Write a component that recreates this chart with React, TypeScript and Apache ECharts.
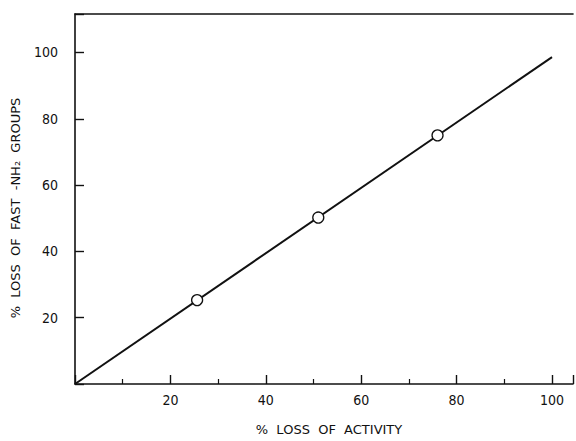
import React, { useEffect, useRef } from "react";
import * as echarts from "echarts";

const pointsX = [25.6, 51, 76];
const pointsY = [25.3, 50.2, 75];
const fitLineX = [0, 100];
const fitLineY = [0, 98.6];
const xTicks = [20, 40, 60, 80, 100];
const yTicks = [20, 40, 60, 80, 100];
const xTitle = "%  LOSS  OF  ACTIVITY";
const yTitle = "%  LOSS  OF  FAST  -NH\u2082  GROUPS";

const NUM_FONT = "'Liberation Sans Narrow', 'DejaVu Sans Condensed', sans-serif";
const NAME_FONT = "'DejaVu Sans', sans-serif";

export default function App() {
  const ref = useRef<HTMLDivElement>(null);
  useEffect(() => {
    if (!ref.current) return;
    const chart = echarts.init(ref.current, undefined, { renderer: "svg" });
    const axisLine = { show: true, lineStyle: { color: "#111", width: 1.6 } };
    chart.setOption({
      animation: false,
      backgroundColor: "#fff",
      grid: { left: 75, top: 14, right: 0, bottom: 53, containLabel: false },
      xAxis: [
        {
          type: "value",
          min: 0,
          max: 104.4,
          interval: 20,
          position: "bottom",
          name: xTitle,
          nameLocation: "middle",
          nameGap: 39,
          nameTextStyle: { fontFamily: NAME_FONT, fontSize: 13, color: "#111", padding: [0, 0, 0, 10] },
          axisLine,
          axisTick: { show: true, inside: true, length: 9, lineStyle: { color: "#111", width: 1.4 } },
          minorTick: { show: true, splitNumber: 2, length: 5, lineStyle: { color: "#111", width: 1.2 } },
          splitLine: { show: false },
          axisLabel: {
            fontFamily: NUM_FONT,
            fontSize: 14,
            color: "#111",
            margin: 9,
            formatter: (v: number) => (xTicks.includes(v) ? String(v) : ""),
          },
        },
        {
          type: "value",
          min: 0,
          max: 104.4,
          position: "top",
          axisLine,
          axisTick: { show: false },
          axisLabel: { show: false },
          splitLine: { show: false },
        },
      ],
      yAxis: {
        type: "value",
        min: 0,
        max: 111.6,
        interval: 20,
        name: yTitle,
        nameLocation: "middle",
        nameGap: 53,
        nameTextStyle: { fontFamily: NAME_FONT, fontSize: 13, color: "#111", padding: [0, 18, 0, 0] },
        axisLine,
        axisTick: { show: true, inside: true, length: 9, lineStyle: { color: "#111", width: 1.4 } },
        splitLine: { show: false },
        axisLabel: {
          fontFamily: NUM_FONT,
          fontSize: 14,
          color: "#111",
          margin: 17,
          padding: [0, 0, 8, 0],
          formatter: (v: number) => (yTicks.includes(v) ? String(v) : ""),
        },
      },
      series: [
        {
          type: "line",
          data: fitLineX.map((x, i) => [x, fitLineY[i]]),
          showSymbol: false,
          lineStyle: { color: "#111", width: 2 },
          z: 2,
        },
        {
          type: "scatter",
          data: pointsX.map((x, i) => [x, pointsY[i]]),
          symbol: "circle",
          symbolSize: 11,
          itemStyle: { color: "#fff", borderColor: "#111", borderWidth: 1.3, opacity: 1 },
          z: 3,
        },
      ],
    });
    return () => chart.dispose();
  }, []);
  return <div ref={ref} style={{ position: "fixed", left: 0, top: 0, width: 576, height: 441 }} />;
}
